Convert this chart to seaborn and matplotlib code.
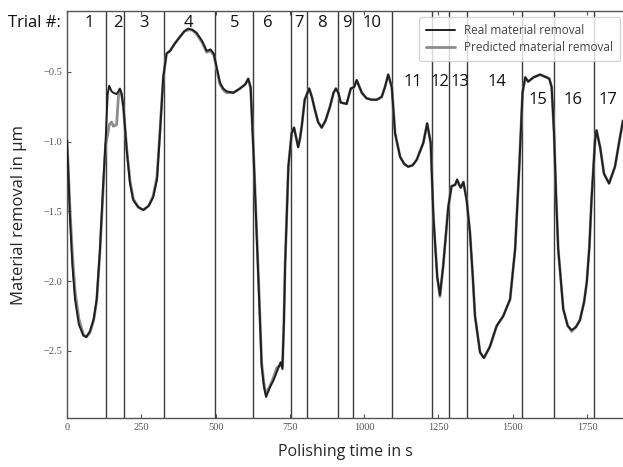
import pandas as pd
import matplotlib.pyplot as plt
import seaborn as sns

# values
time_s = [0, 5, 10, 18, 27, 40, 55, 65, 77, 90, 100, 111, 122, 130, 137, 142, 150, 156, 167, 173,
          178, 184, 190, 201, 212, 223, 240, 257, 275, 290, 303, 313, 324, 335, 347, 362, 380, 395, 408, 422,
          436, 455, 470, 483, 494, 504, 515, 526, 537, 560, 582, 600, 610, 618, 628, 638, 647, 655, 663, 670,
          683, 695, 706, 719, 725, 730, 734, 740, 745, 756, 764, 771, 778, 784, 790, 800, 815, 824, 834, 845,
          857, 870, 885, 897, 905, 913, 921, 941, 955, 966, 975, 992, 1008, 1025, 1042, 1059, 1070, 1081, 1093, 1104,
          1121, 1135, 1148, 1163, 1177, 1199, 1212, 1224, 1233, 1246, 1255, 1266, 1283, 1294, 1306, 1313, 1320, 1325, 1334, 1345,
          1356, 1365, 1373, 1390, 1403, 1423, 1446, 1468, 1491, 1508, 1522, 1533, 1542, 1552, 1570, 1592, 1614, 1623, 1631, 1639,
          1646, 1653, 1670, 1685, 1698, 1712, 1726, 1740, 1749, 1758, 1765, 1777, 1782, 1794, 1807, 1824, 1844, 1860, 1871]

real_removal = [-0.99, -1.25, -1.54, -1.88, -2.13, -2.31, -2.39, -2.40, -2.36, -2.27, -2.13, -1.77, -1.30, -0.99, -0.66, -0.60, -0.64, -0.65, -0.66, -0.64,
                -0.62, -0.66, -0.75, -1.06, -1.30, -1.42, -1.47, -1.49, -1.46, -1.40, -1.27, -0.94, -0.54, -0.37, -0.35, -0.30, -0.25, -0.21, -0.19, -0.20,
                -0.22, -0.28, -0.35, -0.34, -0.37, -0.47, -0.58, -0.62, -0.64, -0.65, -0.62, -0.59, -0.55, -0.61, -1.10, -1.65, -2.15, -2.61, -2.76, -2.83,
                -2.76, -2.71, -2.65, -2.58, -2.63, -2.30, -1.89, -1.50, -1.18, -0.94, -0.90, -0.97, -1.04, -0.98, -0.89, -0.70, -0.62, -0.68, -0.77, -0.86,
                -0.90, -0.85, -0.75, -0.65, -0.62, -0.65, -0.72, -0.73, -0.62, -0.61, -0.56, -0.65, -0.69, -0.70, -0.70, -0.68, -0.61, -0.52, -0.61, -0.94,
                -1.11, -1.16, -1.18, -1.17, -1.13, -1.01, -0.87, -1.01, -1.54, -1.97, -2.10, -1.89, -1.47, -1.32, -1.31, -1.27, -1.31, -1.33, -1.29, -1.42,
                -1.65, -1.95, -2.25, -2.51, -2.55, -2.47, -2.32, -2.25, -2.13, -1.77, -1.18, -0.65, -0.54, -0.57, -0.54, -0.52, -0.54, -0.55, -0.61, -0.94,
                -1.40, -1.77, -2.20, -2.32, -2.35, -2.33, -2.28, -2.15, -2.01, -1.75, -1.42, -0.99, -0.92, -1.04, -1.23, -1.30, -1.18, -0.98, -0.85]

predicted_removal = [-0.99, -1.22, -1.48, -1.80, -2.07, -2.27, -2.38, -2.40, -2.37, -2.28, -2.14, -1.79, -1.33, -1.02, -0.95, -0.88, -0.86, -0.89, -0.88, -0.68,
                     -0.63, -0.66, -0.76, -1.05, -1.28, -1.41, -1.47, -1.49, -1.46, -1.39, -1.25, -0.92, -0.54, -0.37, -0.35, -0.30, -0.25, -0.21, -0.20, -0.20,
                     -0.23, -0.29, -0.36, -0.35, -0.38, -0.48, -0.59, -0.63, -0.65, -0.65, -0.62, -0.59, -0.55, -0.62, -1.08, -1.62, -2.12, -2.58, -2.74, -2.81,
                     -2.75, -2.69, -2.62, -2.60, -2.61, -2.28, -1.88, -1.50, -1.18, -0.94, -0.90, -0.97, -1.04, -0.98, -0.89, -0.70, -0.62, -0.68, -0.77, -0.86,
                     -0.90, -0.85, -0.75, -0.65, -0.62, -0.65, -0.72, -0.73, -0.62, -0.61, -0.56, -0.65, -0.69, -0.70, -0.70, -0.68, -0.61, -0.52, -0.61, -0.94,
                     -1.11, -1.16, -1.18, -1.17, -1.13, -1.01, -0.87, -1.01, -1.54, -1.97, -2.11, -1.89, -1.47, -1.32, -1.31, -1.28, -1.31, -1.33, -1.29, -1.42,
                     -1.65, -1.95, -2.25, -2.51, -2.55, -2.47, -2.32, -2.25, -2.13, -1.77, -1.18, -0.65, -0.54, -0.57, -0.54, -0.52, -0.54, -0.55, -0.61, -0.94,
                     -1.40, -1.77, -2.20, -2.32, -2.36, -2.33, -2.28, -2.15, -2.01, -1.75, -1.42, -0.99, -0.92, -1.04, -1.23, -1.30, -1.18, -0.98, -0.85]

# borders between trials
trial_bounds = [130, 193, 325, 499, 625, 754, 809, 911, 964, 1093, 1227, 1287, 1345, 1530, 1640, 1774]

# trial number labels and where they sit
trial_labels = [str(i) for i in range(1, 18)]
trial_label_x = [74, 171, 259, 410, 565, 676, 780, 858, 942, 1026, 1164, 1255, 1322, 1447, 1585, 1703, 1820]
trial_label_y = [-0.15] * 10 + [-0.57] * 4 + [-0.70] * 3

df = pd.DataFrame({'time': time_s, 'real': real_removal, 'pred': predicted_removal})

sns.set_style('white')
plt.rcParams['font.family'] = ['Open Sans', 'DejaVu Sans']

fig = plt.figure(figsize=(6.23, 4.67), dpi=100)
ax = fig.add_axes([0.1075, 0.105, 0.8925, 0.871])

for b in trial_bounds:
    ax.axvline(b, color='#3a3a3a', lw=1.0, zorder=1)

sns.lineplot(data=df, x='time', y='pred', color='#8c8c8c', lw=2.0, label='Predicted material removal', ax=ax, zorder=2)
sns.lineplot(data=df, x='time', y='real', color='#1e1e1e', lw=1.4, label='Real material removal', ax=ax, zorder=3)
for ln in ax.get_lines():
    ln.set_solid_joinstyle('round')

ax.set_xlim(0, 1871)
ax.set_ylim(-2.98, -0.066)
ax.set_xticks([0, 250, 500, 750, 1000, 1250, 1500, 1750])
ax.set_yticks([-2.5, -2.0, -1.5, -1.0, -0.5])
ax.set_yticklabels(['\u22122.5', '\u22122.0', '\u22121.5', '\u22121.0', '\u22120.5'])
ax.tick_params(axis='both', direction='in', length=3, width=0.8, color='#555555',
               labelsize=7.5, labelcolor='#555555', top=True, bottom=True, left=True)
for lab in ax.get_xticklabels() + ax.get_yticklabels():
    lab.set_family('Liberation Serif')
ax.spines['right'].set_visible(False)
for s in ['left', 'top', 'bottom']:
    ax.spines[s].set_color('#555555')
    ax.spines[s].set_linewidth(1.0)

ax.set_xlabel('Polishing time in s', fontsize=11.5, labelpad=9)
ax.set_ylabel('Material removal in \u00b5m', fontsize=12, labelpad=12)

for t, x, y in zip(trial_labels, trial_label_x, trial_label_y):
    ax.text(x, y, t, fontsize=12, ha='center', va='center', color='#111111')
fig.text(0.055, 0.951, 'Trial #:', fontsize=12, ha='center', va='center', color='#111111')

handles, labels = ax.get_legend_handles_labels()
leg = ax.legend(handles[::-1], labels[::-1], loc='upper right', bbox_to_anchor=(0.995, 0.985),
                borderaxespad=0, fontsize=8.5, frameon=True, fancybox=True, handlelength=2.4,
                borderpad=0.6, labelspacing=0.3)
leg.get_frame().set_edgecolor('#cccccc')
for txt in leg.get_texts():
    txt.set_color('#444444')

plt.savefig('out.png', dpi=100)
